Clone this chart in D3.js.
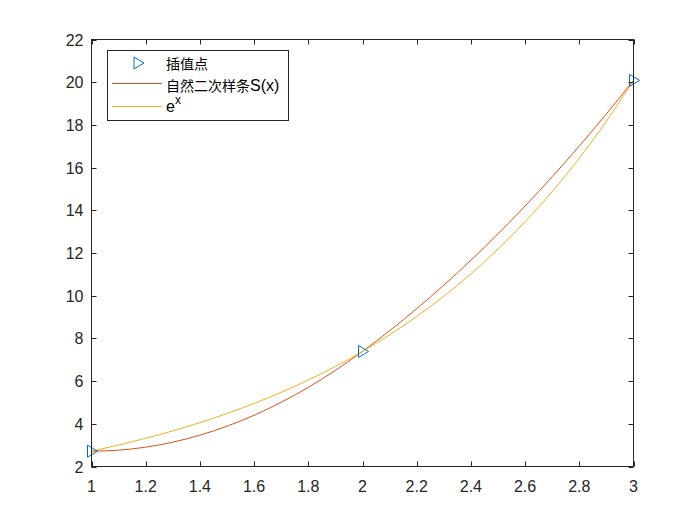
<!DOCTYPE html>
<html><head><meta charset="utf-8">
<script src="https://cdn.jsdelivr.net/npm/d3@7"></script>
<style>body{margin:0;background:#fff}text{font-family:"Liberation Sans",Arial,"Noto Sans CJK SC",sans-serif}</style>
</head><body>
<svg id="c" width="700" height="525"></svg>
<script>
const nodeX = [1, 2, 3];
const nodeY = [2.718, 7.389, 20.086];
const xs = [1.0,1.1,1.2,1.3,1.4,1.5,1.6,1.7,1.8,1.9,2.0,2.1,2.2,2.3,2.4,2.5,2.6,2.7,2.8,2.9,3.0];
const splineY = [2.718,2.765,2.905,3.139,3.466,3.886,4.400,5.007,5.708,6.502,7.389,8.357,9.392,10.493,11.662,12.899,14.202,15.572,17.009,18.514,20.086];
const expY = [2.718,3.004,3.320,3.669,4.055,4.482,4.953,5.474,6.050,6.686,7.389,8.166,9.025,9.974,11.023,12.182,13.464,14.880,16.445,18.174,20.086];
const xTicks = [1,1.2,1.4,1.6,1.8,2,2.2,2.4,2.6,2.8,3];
const yTicks = [2,4,6,8,10,12,14,16,18,20,22];
const legendLabels = ["插值点","自然二次样条","S(x)","e","x"];

const L=91.5,R=633.5,T=39.5,B=466.5;
const svg=d3.select("#c");
const x=d3.scaleLinear().domain([1,3]).range([L,R]);
const y=d3.scaleLinear().domain([2,22]).range([B,T]);
const blue="#0072BD",red="#D95319",yel="#EDB120",axc="#262626";

const line=d3.line().x(d=>x(d[0])).y(d=>y(d[1])).curve(d3.curveMonotoneX);
svg.append("path").attr("d",line(xs.map((v,i)=>[v,splineY[i]]))).attr("fill","none").attr("stroke",red).attr("stroke-width",1);
svg.append("path").attr("d",line(xs.map((v,i)=>[v,expY[i]]))).attr("fill","none").attr("stroke",yel).attr("stroke-width",1);

const tri="M-4,-6L6,0L-4,6Z";
svg.selectAll(".m").data(nodeX).enter().append("path").attr("d",tri)
  .attr("transform",(d,i)=>`translate(${x(d)},${y(nodeY[i])})`)
  .attr("fill","none").attr("stroke",blue).attr("stroke-width",1);

// axes
const ax=svg.append("g").attr("stroke",axc).attr("stroke-width",1);
ax.append("rect").attr("x",L).attr("y",T).attr("width",R-L).attr("height",B-T).attr("fill","none");
const tl=5;
xTicks.forEach(t=>{const px=Math.round(x(t))+0.5;
  ax.append("line").attr("x1",px).attr("x2",px).attr("y1",B).attr("y2",B-tl);
  ax.append("line").attr("x1",px).attr("x2",px).attr("y1",T).attr("y2",T+tl);
  svg.append("text").attr("x",x(t)).attr("y",B+25).attr("text-anchor","middle").attr("font-size",16).attr("fill",axc).text(d3.format("~g")(t));
});
yTicks.forEach(t=>{const py=Math.round(y(t))+0.5;
  ax.append("line").attr("y1",py).attr("y2",py).attr("x1",L).attr("x2",L+tl);
  ax.append("line").attr("y1",py).attr("y2",py).attr("x1",R).attr("x2",R-tl);
  svg.append("text").attr("x",L-8).attr("y",y(t)+6).attr("text-anchor","end").attr("font-size",16).attr("fill",axc).text(t);
});

// legend
const lg=svg.append("g");
lg.append("rect").attr("x",107.5).attr("y",50.5).attr("width",181).attr("height",70).attr("fill","#fff").attr("stroke",axc).attr("stroke-width",1);
lg.append("path").attr("d",tri).attr("transform","translate(138,63)").attr("fill","none").attr("stroke",blue);
lg.append("line").attr("x1",112).attr("x2",162).attr("y1",83.5).attr("y2",83.5).attr("stroke",red);
lg.append("line").attr("x1",112).attr("x2",162).attr("y1",106.5).attr("y2",106.5).attr("stroke",yel);
lg.append("text").attr("x",166).attr("y",68.5).attr("font-size",14).attr("fill","#000").text(legendLabels[0]);
const t2=lg.append("text").attr("x",166).attr("y",90.5).attr("fill","#000");
t2.append("tspan").attr("font-size",14).text(legendLabels[1]);
t2.append("tspan").attr("font-size",16).text(legendLabels[2]);
const et=lg.append("text").attr("x",166).attr("y",112).attr("font-size",16).attr("fill","#000");
et.append("tspan").text(legendLabels[3]);
et.append("tspan").attr("dy",-8).attr("font-size",12).text(legendLabels[4]);
</script>
</body></html>
